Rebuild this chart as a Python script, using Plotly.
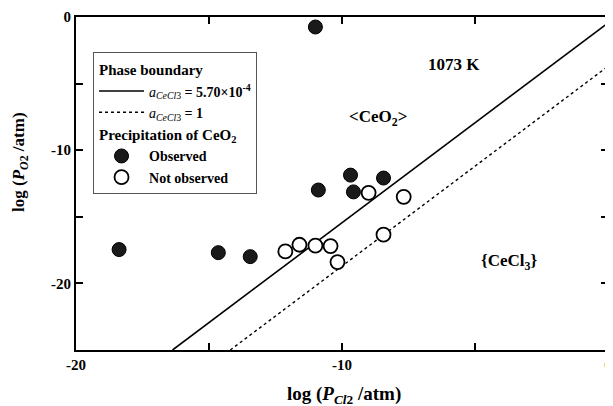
import plotly.graph_objects as go

# ---- data ----
obs_x = [-11.0, -9.68, -8.44, -10.89, -9.57, -18.38, -14.65, -13.45]
obs_y = [-0.75, -11.87, -12.09, -12.99, -13.13, -17.46, -17.69, -17.99]

nobs_x = [-9.0, -7.68, -12.13, -11.6, -11.0, -10.43, -10.17, -8.44]
nobs_y = [-13.2, -13.5, -17.6, -17.1, -17.16, -17.2, -18.4, -16.34]

# phase boundary lines (endpoints)
solid_x = [-16.37, 0.0]
solid_y = [-25.0, -0.45]
dot_x = [-14.2, 0.0]
dot_y = [-25.0, -3.7]

x_ticks = [-20, -15, -10, -5, 0]
x_ticklabels = ["-20", "", "-10", "", "0"]
y_ticks = [0, -5, -10, -15, -20, -25]
y_ticklabels = ["0", "", "-10", "", "-20", ""]

FONT = "Liberation Serif, Times New Roman, serif"

fig = go.Figure()

fig.add_trace(go.Scatter(
    x=solid_x, y=solid_y, mode="lines",
    line=dict(color="black", width=1.6),
    name="<i>a</i><sub><i>CeCl</i>3</sub><b> = 5.70×10<sup>-4</sup></b>",
    legendgroup="pb", legendgrouptitle=dict(text="<b>Phase boundary</b>",
                                            font=dict(size=15, family=FONT, color="black")),
))
fig.add_trace(go.Scatter(
    x=dot_x, y=dot_y, mode="lines",
    line=dict(color="black", width=1.4, dash="dot"),
    name="<i>a</i><sub><i>CeCl</i>3</sub><b> = 1</b>",
    legendgroup="pb",
))
fig.add_trace(go.Scatter(
    x=obs_x, y=obs_y, mode="markers",
    marker=dict(color="#1a1a1a", size=14, line=dict(color="black", width=1)),
    name="<b>Observed</b>",
    legendgroup="pc", legendgrouptitle=dict(text="<b>Precipitation of CeO<sub>2</sub></b>",
                                            font=dict(size=15, family=FONT, color="black")),
))
fig.add_trace(go.Scatter(
    x=nobs_x, y=nobs_y, mode="markers",
    marker=dict(color="white", size=14, line=dict(color="black", width=1.8)),
    name="<b>Not observed</b>",
    legendgroup="pc",
))

fig.update_xaxes(
    range=[-20, 0], tickvals=x_ticks, ticktext=x_ticklabels,
    ticks="inside", ticklen=7, tickwidth=1.5, tickcolor="black",
    showline=True, linecolor="black", linewidth=1.8, mirror="ticks",
    showgrid=False, zeroline=False, automargin=False,
    tickfont=dict(family=FONT, size=15, color="black", weight="bold"),
)
fig.update_yaxes(
    range=[-25, 0], tickvals=y_ticks, ticktext=y_ticklabels,
    ticks="inside", ticklen=7, tickwidth=1.5, tickcolor="black",
    showline=True, linecolor="black", linewidth=1.8, mirror="ticks",
    showgrid=False, zeroline=False, automargin=False,
    tickfont=dict(family=FONT, size=15, color="black", weight="bold"),
)

annos = [
    dict(x=-5.8, y=-3.6, text="<b>1073 K</b>", xref="x", yref="y", showarrow=False,
         font=dict(family=FONT, size=17, color="black")),
    dict(x=-8.66, y=-7.58, text="<b>&lt;CeO<sub>2</sub>&gt;</b>", xref="x", yref="y", showarrow=False,
         font=dict(family=FONT, size=17, color="black")),
    dict(x=-3.73, y=-18.4, text="<b>{CeCl<sub>3</sub>}</b>", xref="x", yref="y", showarrow=False,
         font=dict(family=FONT, size=17, color="black")),
    dict(x=0.503, y=-0.135, xref="paper", yref="paper", xanchor="center", yanchor="middle",
         text="<b>log (<i>P</i><sub><i>Cl</i>2</sub> /atm)</b>", showarrow=False,
         font=dict(family=FONT, size=19, color="black")),
    dict(x=-0.105, y=0.565, xref="paper", yref="paper", xanchor="center", yanchor="middle",
         textangle=-90,
         text="<b>log (<i>P</i><sub><i>O</i>2</sub> /atm)</b>", showarrow=False,
         font=dict(family=FONT, size=17, color="black")),
]

# page body has an 8px margin, so the figure is sized to fit the 613x406 window
fig.update_layout(
    width=605, height=398,
    margin=dict(l=68, r=5, t=9, b=56, autoexpand=False),
    paper_bgcolor="white", plot_bgcolor="white",
    font=dict(family=FONT, size=14, color="black"),
    showlegend=True,
    legend=dict(
        x=0.032, y=0.895, xanchor="left", yanchor="top",
        bordercolor="#555555", borderwidth=1, bgcolor="white",
        font=dict(family=FONT, size=14, color="black"),
        traceorder="grouped", tracegroupgap=0, itemwidth=45,
    ),
    annotations=annos,
)

fig.write_html("out.html")
